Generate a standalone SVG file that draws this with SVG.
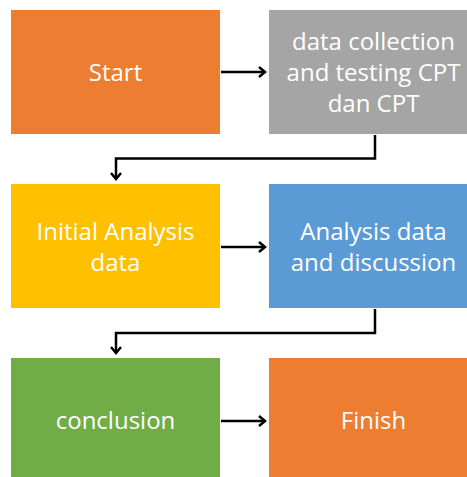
<svg xmlns="http://www.w3.org/2000/svg" width="467" height="477" viewBox="0 0 467 477">
<style>
.lbl{font-family:"Open Sans","Liberation Sans",sans-serif;font-size:24px;fill:#fff;text-anchor:middle;dominant-baseline:central}
.con{fill:none;stroke:#000;stroke-width:2.5;marker-end:url(#ah)}
</style>
<defs>
<marker id="ah" markerWidth="10" markerHeight="12" refX="8" refY="6" orient="auto" markerUnits="userSpaceOnUse">
<polyline points="2,1 8,6 2,11" fill="none" stroke="#000" stroke-width="2.5"/>
</marker>
</defs>
<rect width="467" height="477" fill="#fff"/>
<g id="start"><rect x="11" y="10" width="209" height="124" fill="#ED7D31"/><text class="lbl" x="115.5" y="71">Start</text></g>
<g id="collection"><rect x="269" y="10" width="209" height="124" fill="#A5A5A5"/><text class="lbl" x="373.5" y="40">data collection</text><text class="lbl" x="373.5" y="71">and testing CPT</text><text class="lbl" x="373.5" y="102">dan CPT</text></g>
<g id="initial"><rect x="11" y="184" width="209" height="124" fill="#FFC000"/><text class="lbl" x="115.5" y="230">Initial Analysis</text><text class="lbl" x="115.5" y="261">data</text></g>
<g id="analysis"><rect x="269" y="184" width="209" height="124" fill="#5B9BD5"/><text class="lbl" x="373.5" y="230">Analysis data</text><text class="lbl" x="373.5" y="261">and discussion</text></g>
<g id="conclusion"><rect x="11" y="358" width="209" height="124" fill="#70AD47"/><text class="lbl" x="115.5" y="419">conclusion</text></g>
<g id="finish"><rect x="269" y="358" width="209" height="124" fill="#ED7D31"/><text class="lbl" x="373.5" y="419">Finish</text></g>
<g id="connectors">
<line class="con" x1="221" y1="72" x2="265" y2="72"/>
<polyline class="con" points="375,135 375,158.5 116,158.5 116,179"/>
<line class="con" x1="221" y1="247" x2="265" y2="247"/>
<polyline class="con" points="375,309 375,333 116,333 116,353"/>
<line class="con" x1="221" y1="421" x2="265" y2="421"/>
</g>
</svg>
